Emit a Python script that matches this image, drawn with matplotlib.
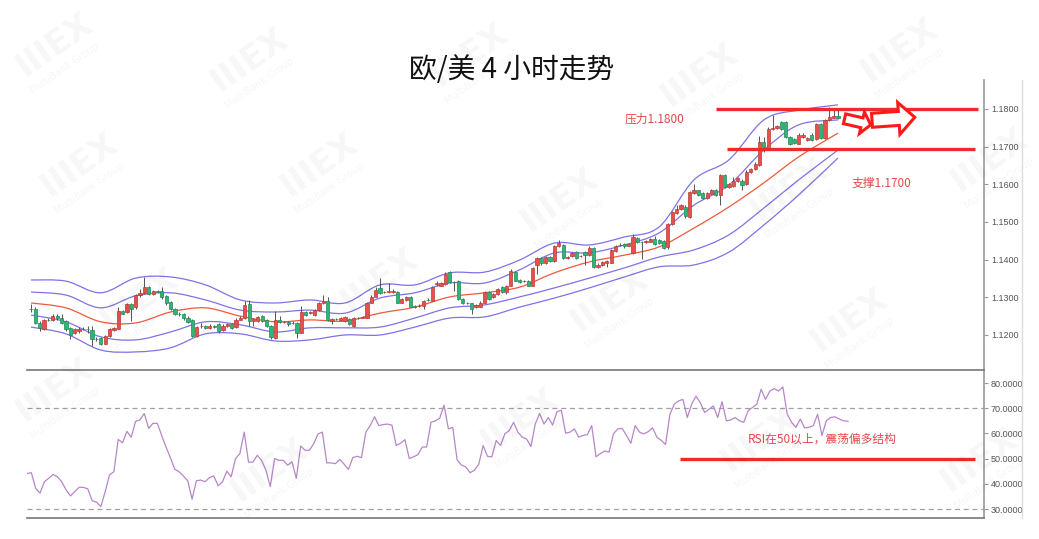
import numpy as np
import matplotlib
matplotlib.use("Agg")
import matplotlib.pyplot as plt
from matplotlib.lines import Line2D
from matplotlib.patches import Polygon, PathPatch
from matplotlib.path import Path

plt.rcParams['font.family'] = ['Noto Sans CJK SC', 'DejaVu Sans']

# ---- 4h EUR/USD candles ----
opens = [1.1270, 1.1268, 1.1232, 1.1217, 1.1241, 1.1241, 1.1251, 1.1246, 1.1237, 1.1219,
         1.1206, 1.1210, 1.1216, 1.1216, 1.1212, 1.1190, 1.1192, 1.1177, 1.1197, 1.1212,
         1.1217, 1.1264, 1.1260, 1.1282, 1.1273, 1.1305, 1.1311, 1.1327, 1.1309, 1.1316,
         1.1318, 1.1303, 1.1287, 1.1269, 1.1256, 1.1255, 1.1246, 1.1239, 1.1197, 1.1223,
         1.1224, 1.1219, 1.1223, 1.1228, 1.1212, 1.1224, 1.1228, 1.1222, 1.1241, 1.1244,
         1.1282, 1.1237, 1.1237, 1.1250, 1.1239, 1.1224, 1.1192, 1.1239, 1.1234, 1.1235,
         1.1232, 1.1233, 1.1206, 1.1261, 1.1258, 1.1253, 1.1266, 1.1285, 1.1289, 1.1237,
         1.1243, 1.1239, 1.1237, 1.1242, 1.1224, 1.1246, 1.1246, 1.1246, 1.1286, 1.1302,
         1.1324, 1.1314, 1.1314, 1.1314, 1.1315, 1.1286, 1.1293, 1.1300, 1.1276, 1.1277,
         1.1278, 1.1294, 1.1291, 1.1335, 1.1331, 1.1336, 1.1367, 1.1341, 1.1344, 1.1295,
         1.1284, 1.1284, 1.1273, 1.1275, 1.1286, 1.1315, 1.1300, 1.1309, 1.1327, 1.1313,
         1.1331, 1.1367, 1.1346, 1.1342, 1.1343, 1.1331, 1.1385, 1.1405, 1.1390, 1.1408,
         1.1396, 1.1435, 1.1439, 1.1405, 1.1409, 1.1421, 1.1409, 1.1421, 1.1412, 1.1430,
         1.1381, 1.1385, 1.1390, 1.1392, 1.1423, 1.1438, 1.1441, 1.1437, 1.1417, 1.1457,
         1.1447, 1.1446, 1.1448, 1.1455, 1.1453, 1.1450, 1.1433, 1.1495, 1.1524, 1.1535,
         1.1541, 1.1513, 1.1577, 1.1584, 1.1577, 1.1563, 1.1575, 1.1585, 1.1572, 1.1624,
         1.1593, 1.1595, 1.1608, 1.1610, 1.1601, 1.1633, 1.1641, 1.1650, 1.1713, 1.1695,
         1.1748, 1.1750, 1.1766, 1.1766, 1.1726, 1.1721, 1.1708, 1.1725, 1.1717, 1.1732,
         1.1721, 1.1759, 1.1723, 1.1770, 1.1777, 1.1782]
closes = [1.1268, 1.1232, 1.1219, 1.1239, 1.1240, 1.1250, 1.1244, 1.1232, 1.1215, 1.1201,
          1.1215, 1.1217, 1.1217, 1.1215, 1.1188, 1.1189, 1.1176, 1.1197, 1.1215, 1.1219,
          1.1264, 1.1257, 1.1282, 1.1268, 1.1307, 1.1311, 1.1327, 1.1309, 1.1318, 1.1315,
          1.1300, 1.1285, 1.1269, 1.1255, 1.1255, 1.1244, 1.1235, 1.1197, 1.1221, 1.1224,
          1.1219, 1.1224, 1.1222, 1.1210, 1.1224, 1.1228, 1.1219, 1.1241, 1.1246, 1.1280,
          1.1237, 1.1242, 1.1248, 1.1237, 1.1224, 1.1194, 1.1239, 1.1234, 1.1235, 1.1228,
          1.1233, 1.1206, 1.1260, 1.1253, 1.1260, 1.1266, 1.1284, 1.1289, 1.1239, 1.1243,
          1.1242, 1.1246, 1.1248, 1.1228, 1.1246, 1.1245, 1.1248, 1.1286, 1.1302, 1.1320,
          1.1311, 1.1315, 1.1318, 1.1318, 1.1286, 1.1296, 1.1300, 1.1275, 1.1275, 1.1278,
          1.1291, 1.1293, 1.1327, 1.1337, 1.1338, 1.1362, 1.1340, 1.1340, 1.1295, 1.1284,
          1.1285, 1.1270, 1.1279, 1.1286, 1.1315, 1.1295, 1.1309, 1.1322, 1.1315, 1.1331,
          1.1369, 1.1344, 1.1340, 1.1344, 1.1331, 1.1378, 1.1405, 1.1390, 1.1408, 1.1396,
          1.1435, 1.1444, 1.1405, 1.1408, 1.1418, 1.1405, 1.1410, 1.1412, 1.1432, 1.1381,
          1.1387, 1.1394, 1.1396, 1.1426, 1.1435, 1.1439, 1.1435, 1.1441, 1.1459, 1.1446,
          1.1446, 1.1450, 1.1455, 1.1441, 1.1444, 1.1430, 1.1495, 1.1526, 1.1535, 1.1545,
          1.1517, 1.1579, 1.1586, 1.1572, 1.1563, 1.1577, 1.1585, 1.1572, 1.1624, 1.1593,
          1.1601, 1.1610, 1.1617, 1.1599, 1.1634, 1.1641, 1.1655, 1.1713, 1.1699, 1.1748,
          1.1750, 1.1754, 1.1748, 1.1726, 1.1708, 1.1711, 1.1732, 1.1732, 1.1723, 1.1717,
          1.1759, 1.1723, 1.1770, 1.1779, 1.1782, 1.1777]
highs = [1.1283, 1.1273, 1.1236, 1.1242, 1.1246, 1.1255, 1.1256, 1.1255, 1.1240, 1.1222,
         1.1218, 1.1220, 1.1222, 1.1224, 1.1224, 1.1195, 1.1194, 1.1199, 1.1218, 1.1222,
         1.1273, 1.1266, 1.1285, 1.1284, 1.1310, 1.1323, 1.1354, 1.1330, 1.1320, 1.1320,
         1.1327, 1.1305, 1.1290, 1.1272, 1.1260, 1.1258, 1.1250, 1.1242, 1.1224, 1.1233,
         1.1226, 1.1228, 1.1227, 1.1232, 1.1228, 1.1232, 1.1231, 1.1244, 1.1250, 1.1291,
         1.1293, 1.1246, 1.1250, 1.1253, 1.1242, 1.1226, 1.1264, 1.1250, 1.1238, 1.1238,
         1.1236, 1.1235, 1.1277, 1.1264, 1.1263, 1.1269, 1.1287, 1.1305, 1.1300, 1.1246,
         1.1246, 1.1248, 1.1251, 1.1244, 1.1249, 1.1249, 1.1251, 1.1288, 1.1305, 1.1327,
         1.1350, 1.1318, 1.1338, 1.1321, 1.1318, 1.1299, 1.1303, 1.1303, 1.1279, 1.1281,
         1.1294, 1.1297, 1.1330, 1.1342, 1.1341, 1.1366, 1.1369, 1.1343, 1.1346, 1.1297,
         1.1288, 1.1286, 1.1282, 1.1289, 1.1318, 1.1318, 1.1312, 1.1325, 1.1330, 1.1334,
         1.1376, 1.1370, 1.1348, 1.1347, 1.1345, 1.1381, 1.1408, 1.1408, 1.1411, 1.1411,
         1.1438, 1.1452, 1.1442, 1.1411, 1.1421, 1.1424, 1.1413, 1.1424, 1.1435, 1.1433,
         1.1390, 1.1397, 1.1399, 1.1429, 1.1438, 1.1444, 1.1444, 1.1444, 1.1468, 1.1460,
         1.1450, 1.1453, 1.1458, 1.1462, 1.1456, 1.1453, 1.1498, 1.1529, 1.1545, 1.1548,
         1.1544, 1.1582, 1.1601, 1.1586, 1.1580, 1.1580, 1.1588, 1.1588, 1.1627, 1.1627,
         1.1604, 1.1620, 1.1620, 1.1613, 1.1637, 1.1644, 1.1658, 1.1728, 1.1726, 1.1751,
         1.1784, 1.1757, 1.1769, 1.1769, 1.1729, 1.1724, 1.1735, 1.1735, 1.1726, 1.1735,
         1.1762, 1.1762, 1.1773, 1.1806, 1.1797, 1.1797]
lows = [1.1260, 1.1228, 1.1210, 1.1214, 1.1236, 1.1238, 1.1240, 1.1228, 1.1210, 1.1188,
        1.1203, 1.1206, 1.1212, 1.1206, 1.1170, 1.1184, 1.1173, 1.1175, 1.1195, 1.1210,
        1.1215, 1.1255, 1.1258, 1.1237, 1.1270, 1.1300, 1.1309, 1.1305, 1.1307, 1.1312,
        1.1296, 1.1280, 1.1265, 1.1252, 1.1250, 1.1240, 1.1232, 1.1195, 1.1195, 1.1219,
        1.1216, 1.1217, 1.1218, 1.1206, 1.1210, 1.1222, 1.1216, 1.1219, 1.1239, 1.1242,
        1.1224, 1.1224, 1.1235, 1.1234, 1.1220, 1.1190, 1.1188, 1.1231, 1.1231, 1.1225,
        1.1229, 1.1192, 1.1204, 1.1250, 1.1255, 1.1250, 1.1264, 1.1283, 1.1237, 1.1228,
        1.1239, 1.1236, 1.1235, 1.1226, 1.1222, 1.1243, 1.1244, 1.1244, 1.1284, 1.1300,
        1.1309, 1.1311, 1.1312, 1.1312, 1.1284, 1.1284, 1.1291, 1.1273, 1.1272, 1.1274,
        1.1269, 1.1290, 1.1289, 1.1330, 1.1329, 1.1334, 1.1338, 1.1318, 1.1293, 1.1282,
        1.1281, 1.1255, 1.1271, 1.1273, 1.1284, 1.1293, 1.1298, 1.1306, 1.1312, 1.1308,
        1.1329, 1.1342, 1.1337, 1.1340, 1.1329, 1.1329, 1.1362, 1.1387, 1.1388, 1.1394,
        1.1394, 1.1433, 1.1403, 1.1403, 1.1407, 1.1403, 1.1406, 1.1385, 1.1410, 1.1378,
        1.1379, 1.1383, 1.1381, 1.1390, 1.1421, 1.1435, 1.1432, 1.1435, 1.1415, 1.1444,
        1.1401, 1.1444, 1.1446, 1.1439, 1.1441, 1.1428, 1.1428, 1.1493, 1.1522, 1.1533,
        1.1510, 1.1511, 1.1575, 1.1570, 1.1561, 1.1561, 1.1573, 1.1570, 1.1544, 1.1590,
        1.1591, 1.1593, 1.1606, 1.1585, 1.1599, 1.1631, 1.1639, 1.1648, 1.1686, 1.1693,
        1.1745, 1.1748, 1.1745, 1.1723, 1.1705, 1.1708, 1.1706, 1.1723, 1.1715, 1.1715,
        1.1719, 1.1721, 1.1721, 1.1768, 1.1775, 1.1773]

# envelope lines, read at every 8th candle
band_idx = [0, 8, 16, 24, 32, 40, 48, 56, 64, 72, 80, 88, 96, 104, 112, 120, 128, 136,
            144, 152, 160, 168, 176, 185]
band_top = [1.1346, 1.1343, 1.1312, 1.1351, 1.1354, 1.1333, 1.1293, 1.1285, 1.1293, 1.1285,
            1.1333, 1.1333, 1.1365, 1.1367, 1.1399, 1.1444, 1.1439, 1.1460, 1.1487, 1.1612,
            1.1665, 1.1771, 1.1797, 1.1811]
band_up = [1.1314, 1.1306, 1.1272, 1.1304, 1.1312, 1.1293, 1.1266, 1.1261, 1.1266, 1.1258,
           1.1298, 1.1312, 1.1338, 1.1338, 1.1373, 1.1418, 1.1418, 1.1439, 1.1471, 1.1545,
           1.1598, 1.1691, 1.1758, 1.1771]
band_mid = [1.1285, 1.1272, 1.1235, 1.1232, 1.1261, 1.1272, 1.1250, 1.1235, 1.1240, 1.1237,
            1.1258, 1.1274, 1.1301, 1.1312, 1.1327, 1.1365, 1.1394, 1.1412, 1.1434, 1.1484,
            1.1540, 1.1604, 1.1673, 1.1736]
band_dn = [1.1253, 1.1235, 1.1195, 1.1187, 1.1208, 1.1235, 1.1227, 1.1208, 1.1219, 1.1219,
           1.1221, 1.1245, 1.1272, 1.1280, 1.1301, 1.1325, 1.1351, 1.1378, 1.1407, 1.1426,
           1.1466, 1.1537, 1.1612, 1.1691]
band_bot = [1.1221, 1.1203, 1.1160, 1.1155, 1.1166, 1.1203, 1.1203, 1.1184, 1.1187, 1.1200,
            1.1200, 1.1221, 1.1245, 1.1248, 1.1274, 1.1298, 1.1325, 1.1354, 1.1381, 1.1386,
            1.1420, 1.1492, 1.1572, 1.1670]

# RSI
rsi = [44.1, 44.4, 38.2, 36.3, 40.8, 42.2, 43.7, 42.8, 40.8, 37.6,
       35.2, 36.9, 38.6, 38.6, 38.0, 33.3, 32.7, 31.0, 36.9, 43.5,
       44.8, 57.6, 56.3, 60.8, 58.5, 64.8, 65.4, 67.9, 62.0, 64.0,
       64.0, 59.2, 54.6, 50.4, 45.8, 44.8, 43.1, 41.2, 33.9, 41.2,
       41.5, 40.8, 42.5, 43.1, 39.2, 40.8, 45.0, 42.8, 50.0, 52.0,
       60.5, 48.6, 48.6, 51.3, 49.3, 45.4, 38.9, 50.0, 49.3, 49.3,
       47.4, 48.7, 42.2, 55.0, 53.3, 53.3, 55.9, 59.8, 60.5, 48.3,
       48.3, 48.0, 49.7, 47.8, 45.7, 50.4, 50.9, 50.4, 60.5, 63.1,
       66.6, 63.1, 63.5, 63.7, 63.3, 55.2, 56.1, 57.5, 50.0, 50.7,
       51.6, 54.6, 54.6, 64.4, 65.0, 66.0, 71.2, 61.8, 62.4, 49.6,
       47.4, 46.7, 44.4, 45.4, 47.8, 55.2, 50.9, 50.7, 57.2, 55.2,
       59.8, 61.1, 64.4, 60.5, 58.5, 57.8, 54.8, 63.7, 67.9, 63.7,
       66.3, 63.3, 68.6, 69.2, 60.1, 60.5, 61.8, 58.5, 59.2, 59.5,
       63.1, 50.7, 52.0, 53.0, 52.6, 59.8, 61.8, 62.0, 59.2, 56.1,
       63.1, 60.5, 59.8, 60.7, 62.2, 58.5, 57.2, 55.6, 67.6, 71.6,
       72.9, 73.5, 66.3, 71.6, 74.8, 72.2, 68.3, 69.6, 70.9, 66.3,
       72.6, 65.0, 65.3, 66.3, 65.0, 64.4, 69.0, 70.3, 71.6, 77.5,
       73.5, 76.8, 77.8, 76.8, 78.4, 67.6, 64.4, 62.4, 65.7, 62.2,
       62.4, 63.1, 67.6, 59.2, 65.0, 66.3, 66.6, 65.7, 65.0, 64.8]

price_ticks = [1.12, 1.13, 1.14, 1.15, 1.16, 1.17, 1.18]
rsi_ticks = [30, 40, 50, 60, 70, 80]
resistance = 1.1800
support = 1.1695

RED_UP = '#e9504c'
GREEN_DN = '#2fb577'
BAND = '#7f72e6'
LINE_RED = '#ee2a2a'

W, H = 1039, 539
fig = plt.figure(figsize=(W / 100, H / 100), dpi=100)
fig.patch.set_facecolor('white')

ax = fig.add_axes([27 / W, 1 - 370 / H, (984 - 27) / W, (370 - 80) / H])
ax2 = fig.add_axes([27 / W, 1 - 518 / H, (984 - 27) / W, (518 - 370) / H])

# ---- watermarks (faint logo tiles) ----
marks = [(55, 45), (250, 60), (470, 55), (700, 75), (900, 50),
         (80, 165), (320, 165), (560, 200), (790, 190), (990, 160),
         (140, 300), (380, 280), (610, 300), (850, 320),
         (55, 390), (270, 470), (520, 420), (760, 440), (980, 460)]
for mx, my in marks:
    fig.text(mx / W, 1 - my / H, 'IIIEX', fontsize=24, fontweight='bold', color='#000000',
             alpha=0.035, rotation=35, ha='center', va='center', family='DejaVu Sans', zorder=0)
    fig.text((mx + 10) / W, 1 - (my + 24) / H, 'MultiBank Group', fontsize=7, color='#000000',
             alpha=0.04, rotation=35, ha='center', va='center', family='DejaVu Sans', zorder=0)


def smooth_line(axis, xs, ys, color, lw=0.9):
    # draw a soft curve through the read points (Catmull-Rom as cubic bezier)
    pts = np.column_stack([xs, ys]).astype(float)
    verts = [pts[0]]
    codes = [Path.MOVETO]
    n = len(pts)
    for i in range(n - 1):
        p0 = pts[i - 1] if i > 0 else pts[i]
        p1 = pts[i]
        p2 = pts[i + 1]
        p3 = pts[i + 2] if i + 2 < n else pts[i + 1]
        verts += [p1 + (p2 - p0) / 6, p2 - (p3 - p1) / 6, p2]
        codes += [Path.CURVE4] * 3
    axis.add_patch(PathPatch(Path(verts, codes), fill=False, edgecolor=color, lw=lw, zorder=2))


# ---- main price panel ----
x = np.arange(len(closes))
o = np.array(opens)
c = np.array(closes)
up = c >= o
cols = np.where(up, RED_UP, GREEN_DN)
edges = np.where(up, '#b83a36', '#1f8a57')
ax.vlines(x, lows, highs, color='#555555', lw=0.7, zorder=3)
body_lo = np.minimum(o, c)
body_h = np.maximum(np.abs(c - o), 0.00005)
ax.bar(x, body_h, bottom=body_lo, width=0.74, color=cols, edgecolor=edges, lw=0.5, zorder=4)

smooth_line(ax, band_idx, band_top, BAND)
smooth_line(ax, band_idx, band_up, BAND)
smooth_line(ax, band_idx, band_mid, '#ec5a3c')
smooth_line(ax, band_idx, band_dn, BAND)
smooth_line(ax, band_idx, band_bot, BAND)

ax.hlines(resistance, 157.0, 217.1, color=LINE_RED, lw=2.4, zorder=5)
ax.hlines(support, 159.6, 216.4, color=LINE_RED, lw=2.4, zorder=5)
ax.text(136.2, 1.1773, '压力1.1800', color='#e8474a', fontsize=8.5, va='center', ha='left')
ax.text(188.0, 1.1604, '支撑1.1700', color='#e8474a', fontsize=8.5, va='center', ha='left')

ax.set_xlim(-0.92, 218.47)
ax.set_ylim(1.1107, 1.1877)
for s in ['top', 'left', 'bottom']:
    ax.spines[s].set_visible(False)
ax.spines['right'].set_color('#999999')
ax.spines['right'].set_linewidth(1.2)
ax.yaxis.tick_right()
ax.set_yticks(price_ticks)
ax.set_yticklabels(['%.4f' % v for v in price_ticks])
ax.tick_params(axis='y', length=3, color='#999999', labelsize=6.5, labelcolor='#555555', pad=2)
ax.set_xticks([])
for lab in ax.get_yticklabels():
    lab.set_family('Liberation Sans')


def hollow_arrow(axis, tail, tip, shaft, head, head_len):
    # build in pixel space, hand back to the axis in data space
    t = axis.transData
    p0 = t.transform(tail)
    p1 = t.transform(tip)
    d = p1 - p0
    L = np.hypot(*d)
    u = d / L
    n = np.array([-u[1], u[0]])
    hb = p1 - u * head_len
    pts = [p0 + n * shaft, hb + n * shaft, hb + n * head, p1,
           hb - n * head, hb - n * shaft, p0 - n * shaft]
    pts = t.inverted().transform(np.array(pts))
    axis.add_patch(Polygon(pts, closed=True, facecolor='white', edgecolor='#ff1a1a',
                           lw=2.2, zorder=6, clip_on=False))


hollow_arrow(ax, (186.5, 1.1774), (192.5, 1.1758), 5, 11, 9)
hollow_arrow(ax, (192.8, 1.1770), (202.6, 1.1778), 7, 16, 16)

# ---- RSI panel ----
xr = np.arange(len(rsi))
ax2.plot(xr, rsi, color='#b687c8', lw=0.9, zorder=3)
ax2.axhline(70, color='#a0a0a0', lw=0.9, ls=(0, (4, 3)), zorder=1)
ax2.axhline(30, color='#a0a0a0', lw=0.9, ls=(0, (4, 3)), zorder=1)
ax2.hlines(50, 150.3, 218.2, color=LINE_RED, lw=2.4, zorder=4)
ax2.text(166.0, 57.8, 'RSI在50以上，震荡偏多结构', color='#e8474a', fontsize=8.5,
         va='center', ha='left')
ax2.set_xlim(0, 220.3)
ax2.set_ylim(26.43, 85.16)
ax2.spines['left'].set_visible(False)
for s in ['top', 'bottom']:
    ax2.spines[s].set_color('#777777')
    ax2.spines[s].set_linewidth(1.2)
ax2.spines['right'].set_color('#999999')
ax2.spines['right'].set_linewidth(1.2)
ax2.yaxis.tick_right()
ax2.set_yticks(rsi_ticks)
ax2.set_yticklabels(['%.4f' % v for v in rsi_ticks])
ax2.tick_params(axis='y', length=3, color='#999999', labelsize=6.5, labelcolor='#555555', pad=2)
ax2.set_xticks([])
for lab in ax2.get_yticklabels():
    lab.set_family('Liberation Sans')

# faint outer frame line on the far right
fig.add_artist(Line2D([1022 / W, 1022 / W], [1 - 80 / H, 1 - 518 / H], color='#dddddd', lw=1))

fig.text(512 / W, 1 - 70 / H, '欧/美 4 小时走势', fontsize=20, ha='center', va='center',
         color='#111111')

fig.savefig('out.png', dpi=100, facecolor='white')
